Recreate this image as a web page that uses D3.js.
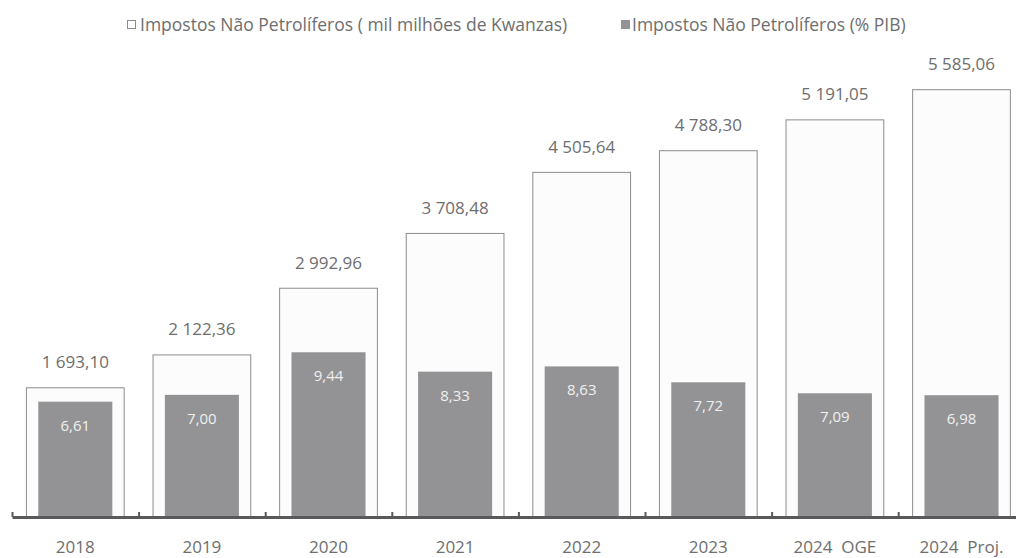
<!DOCTYPE html>
<html>
<head>
<meta charset="utf-8">
<script src="https://cdn.jsdelivr.net/npm/d3@7"></script>
<style>
  body { margin: 0; background: #fff; }
  .chart text { font-family: "Open Sans", "Noto Sans", sans-serif; }
</style>
</head>
<body>
<div class="chart"></div>
<script>
const categories = ["2018", "2019", "2020", "2021", "2022", "2023", "2024  OGE", "2024  Proj."];
const valuesKz = [1693.10, 2122.36, 2992.96, 3708.48, 4505.64, 4788.30, 5191.05, 5585.06];
const valuesPib = [6.61, 7.00, 9.44, 8.33, 8.63, 7.72, 7.09, 6.98];
const seriesNames = [
  "Impostos Não Petrolíferos ( mil milhões de Kwanzas)",
  "Impostos Não Petrolíferos (% PIB)"
];

const width = 1016, height = 558;
const base = 517;

const locale = d3.formatLocale({ decimal: ",", thousands: " ", grouping: [3], currency: ["", ""] });
const fmt = locale.format(",.2f");

const svg = d3.select(".chart").append("svg")
  .attr("width", width)
  .attr("height", height);

// x scales: bands for the bars, a linear one for the edge ticks
const x = d3.scaleBand().domain(categories).range([12, 1024.8])
  .paddingInner(0.22).paddingOuter(0.11);
const xEdge = d3.scaleLinear().domain([0, categories.length]).range([12, 1024.8]);

// two value axes (not drawn)
const y1 = d3.scaleLinear().domain([0, 6000]).range([base, base - 6000 * 0.0766]);
const y2 = d3.scaleLinear().domain([0, 26]).range([base, base - 26 * 17.45]);

const inner = x.bandwidth() * 0.75;

// outer bars (Kwanzas)
svg.selectAll(".bar-kz")
  .data(valuesKz)
  .enter()
  .append("rect")
  .attr("class", "bar-kz")
  .attr("x", (d, i) => x(categories[i]) + 0.5)
  .attr("y", d => y1(d) + 0.5)
  .attr("width", x.bandwidth() - 1)
  .attr("height", d => base - y1(d))
  .attr("fill", "#fcfcfc")
  .attr("stroke", "#8c8c8c")
  .attr("stroke-width", 1);

svg.selectAll(".lbl-kz")
  .data(valuesKz)
  .enter()
  .append("text")
  .attr("class", "lbl-kz")
  .attr("x", (d, i) => x(categories[i]) + x.bandwidth() / 2)
  .attr("y", d => y1(d) - 19)
  .attr("text-anchor", "middle")
  .attr("font-size", "17px")
  .attr("fill", "#6e6e6e")
  .text(d => fmt(d));

// inner bars (% PIB)
svg.selectAll(".bar-pib")
  .data(valuesPib)
  .enter()
  .append("rect")
  .attr("class", "bar-pib")
  .attr("x", (d, i) => x(categories[i]) + (x.bandwidth() - inner) / 2)
  .attr("y", d => y2(d))
  .attr("width", inner)
  .attr("height", d => base - y2(d))
  .attr("fill", "#939396");

svg.selectAll(".lbl-pib")
  .data(valuesPib)
  .enter()
  .append("text")
  .attr("class", "lbl-pib")
  .attr("x", (d, i) => x(categories[i]) + x.bandwidth() / 2)
  .attr("y", d => y2(d) + 29)
  .attr("text-anchor", "middle")
  .attr("font-size", "15px")
  .attr("fill", "#f0f0f0")
  .text(d => fmt(d));

// category axis: thick baseline with small upward ticks at the edges
const edgeAxis = svg.append("g")
  .attr("transform", "translate(0," + base + ")")
  .call(d3.axisBottom(xEdge).tickValues(d3.range(categories.length + 1))
    .tickSize(-5).tickSizeOuter(0).tickFormat(""));
edgeAxis.select(".domain").attr("stroke", "#58595b").attr("stroke-width", 3);
edgeAxis.selectAll(".tick line").attr("stroke", "#58595b").attr("stroke-width", 2);

const catAxis = svg.append("g")
  .attr("transform", "translate(0," + base + ")")
  .call(d3.axisBottom(x).tickSize(0).tickPadding(24));
catAxis.select(".domain").remove();
catAxis.selectAll("text")
  .attr("font-size", "17px")
  .attr("fill", "#6e6e6e")
  .style("white-space", "pre");

// legend
const legend = svg.append("g").attr("font-size", "17.5px");
const leg1 = legend.append("g").attr("transform", "translate(127,31)");
leg1.append("rect").attr("x", 0.5).attr("y", -10.5).attr("width", 8).attr("height", 8)
  .attr("fill", "#fff").attr("stroke", "#8c8c8c");
leg1.append("text").attr("x", 13).attr("y", 0).attr("fill", "#6e6e6e").text(seriesNames[0]);

const leg2 = legend.append("g").attr("transform", "translate(621,31)");
leg2.append("rect").attr("x", 0).attr("y", -11).attr("width", 9).attr("height", 9)
  .attr("fill", "#939396");
leg2.append("text").attr("x", 11).attr("y", 0).attr("fill", "#6e6e6e").text(seriesNames[1]);
</script>
</body>
</html>
